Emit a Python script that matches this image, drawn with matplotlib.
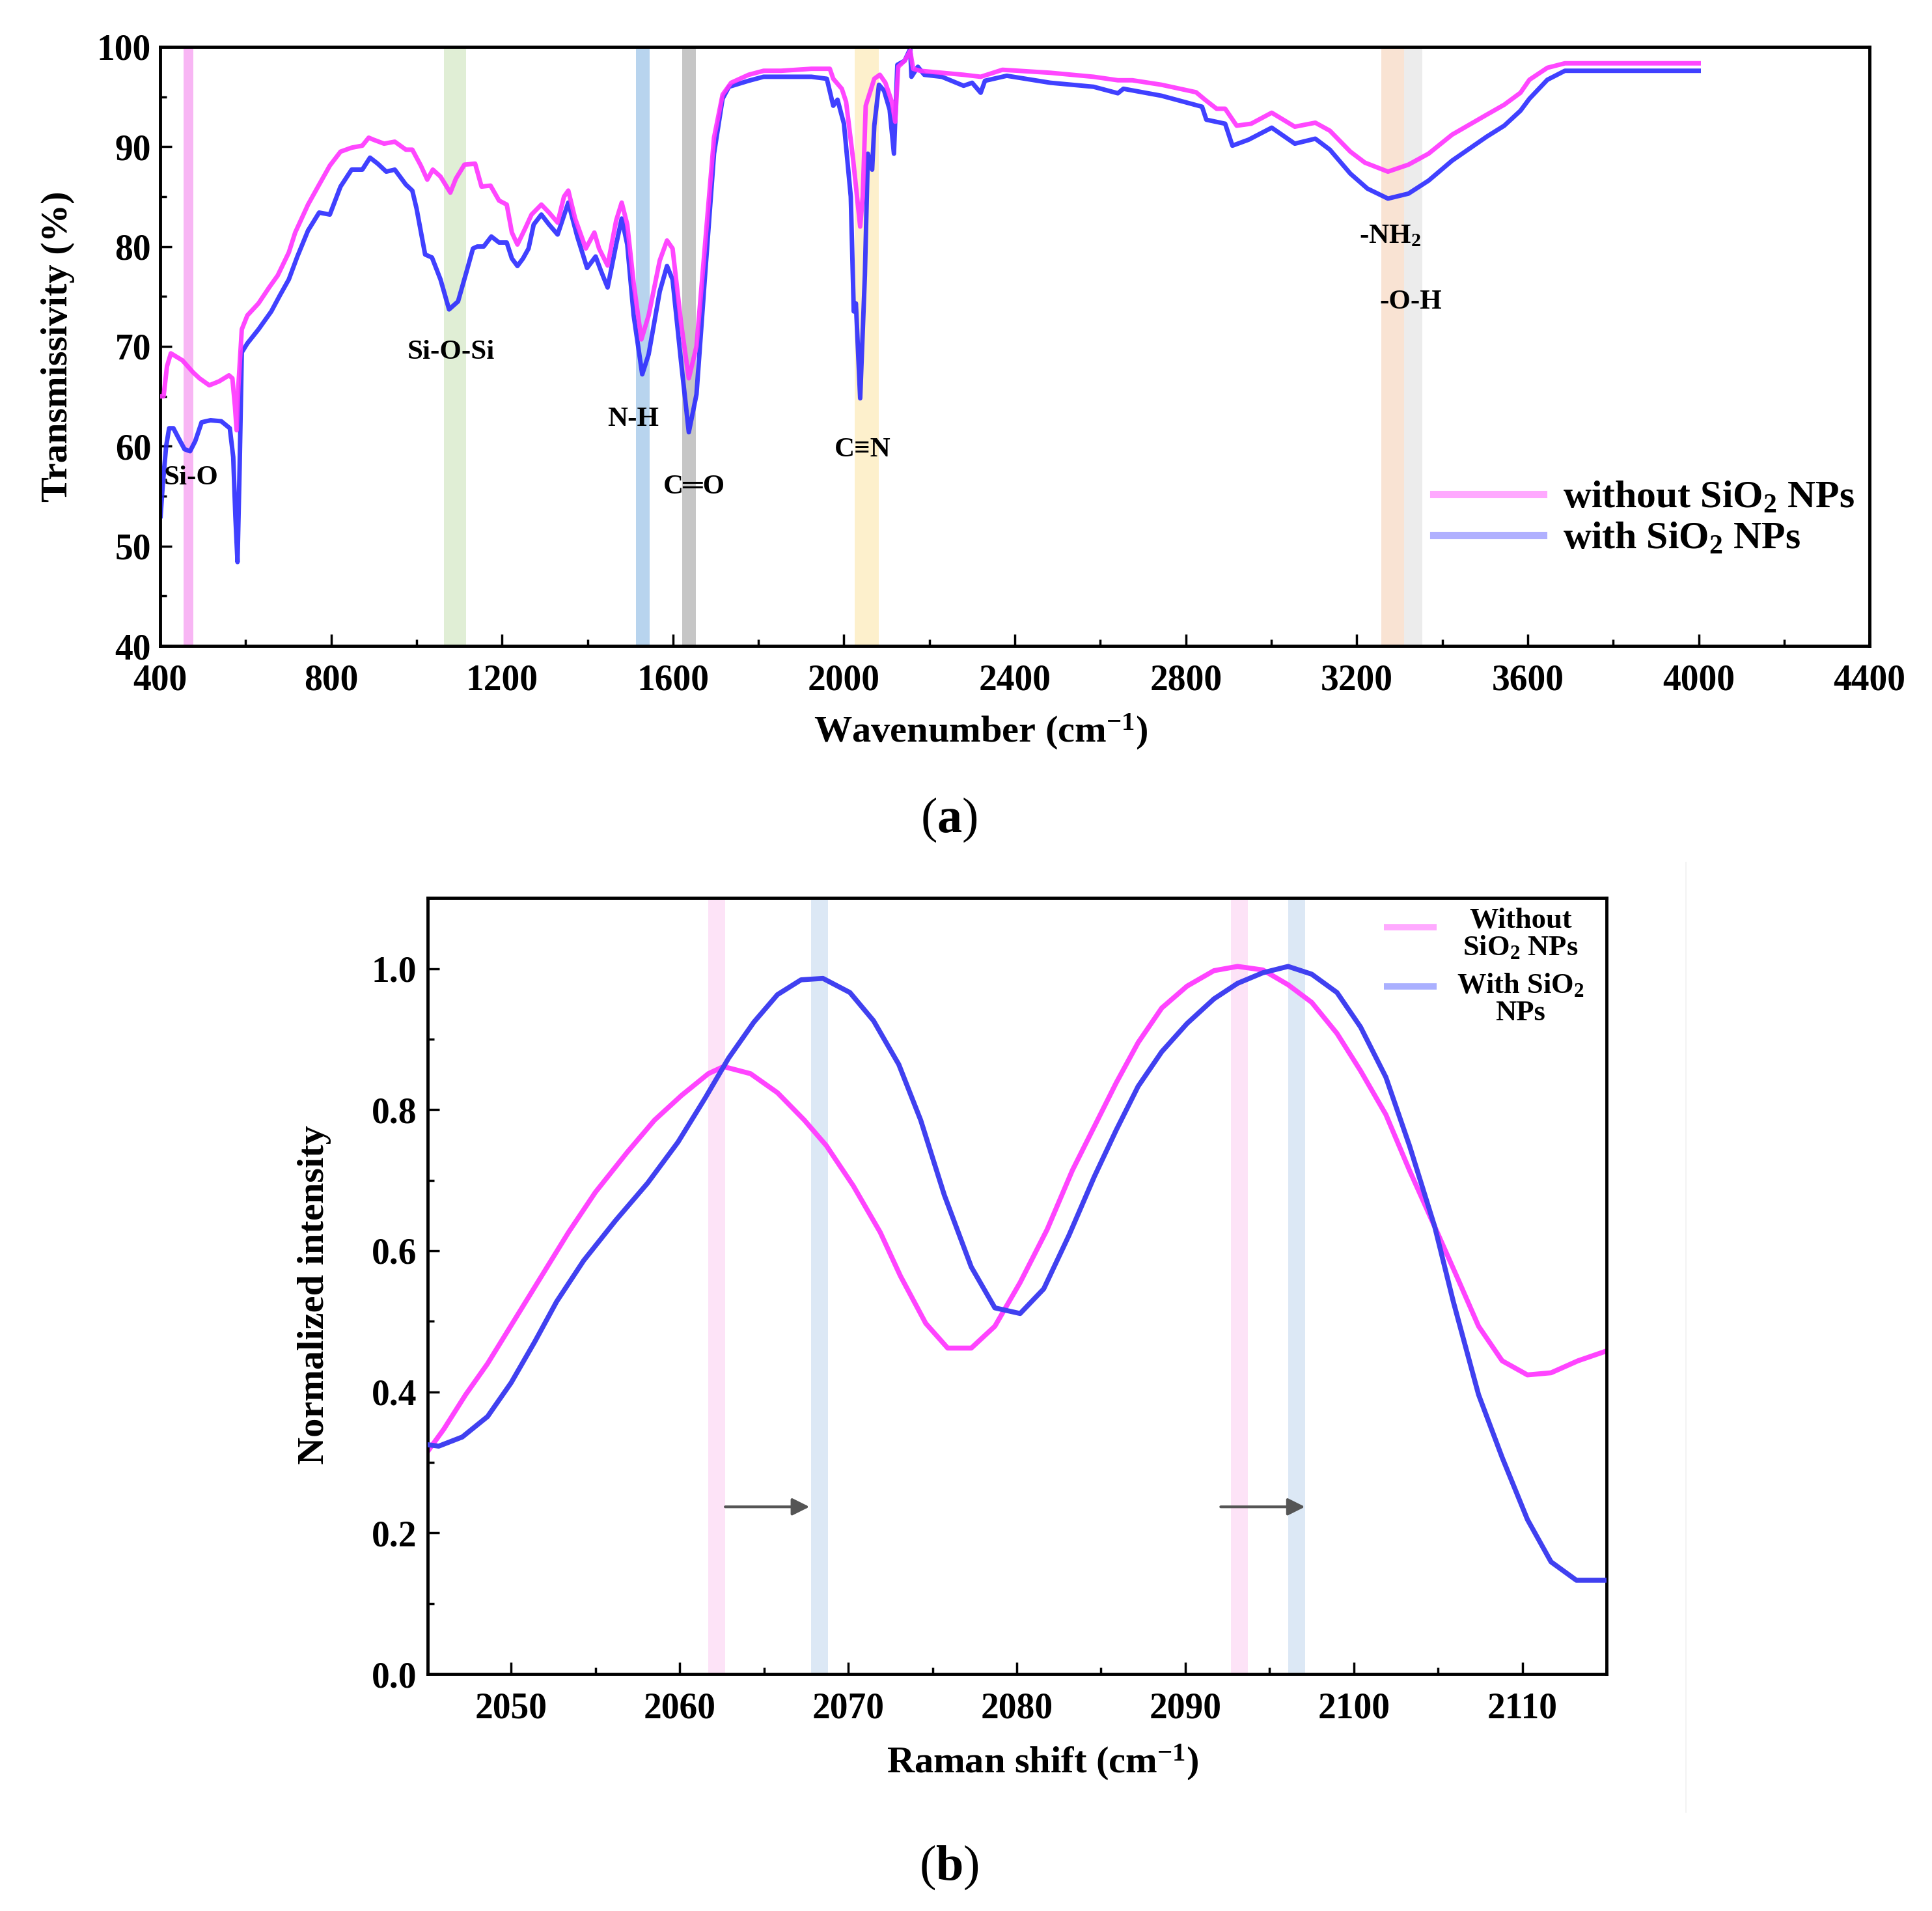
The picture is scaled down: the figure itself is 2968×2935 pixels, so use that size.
import matplotlib
matplotlib.use('Agg')
import matplotlib.pyplot as plt
from matplotlib.lines import Line2D
from matplotlib.ticker import MultipleLocator, FormatStrFormatter

plt.rcParams['font.family'] = ['Liberation Serif', 'DejaVu Serif', 'DejaVu Sans']
plt.rcParams['font.weight'] = 'bold'
plt.rcParams['axes.labelweight'] = 'bold'
plt.rcParams['mathtext.fontset'] = 'custom'
plt.rcParams['mathtext.rm'] = 'Liberation Serif:bold'
plt.rcParams['mathtext.it'] = 'Liberation Serif:italic:bold'
plt.rcParams['mathtext.bf'] = 'Liberation Serif:bold'

# ---------------- Panel (a): FTIR data ----------------
wn_without = [401, 408, 416, 425, 452, 477, 492, 515, 538, 561, 569, 575, 579, 583, 591,
              604, 630, 655, 675, 701, 716, 746, 772, 797, 822, 848, 873, 888, 899, 924,
              949, 975, 990, 1010, 1025, 1038, 1056, 1079, 1092, 1112, 1137, 1152,
              1173, 1193, 1211, 1223, 1236, 1254, 1269, 1292, 1310, 1330, 1345, 1355, 1371,
              1396, 1416, 1427, 1447, 1467, 1480, 1493, 1508, 1526, 1543, 1569, 1586, 1599,
              1619, 1637, 1655, 1675, 1696, 1716, 1736, 1777, 1812, 1853,
              1924, 1967, 1975, 1995, 2005, 2021, 2038, 2044, 2051, 2071, 2084, 2097, 2112,
              2120, 2127, 2142, 2155, 2162, 2178,
              2280, 2320, 2371, 2483, 2584, 2641, 2675, 2743, 2824, 2845, 2872, 2892, 2919,
              2953, 3001, 3055, 3103, 3137, 3185, 3219, 3273, 3321, 3368, 3423, 3504, 3545,
              3583, 3604, 3646, 3687, 3750, 4000]
T_without = [65.0, 65.0, 68.0, 69.3, 68.6, 67.4, 66.8, 66.1, 66.5, 67.1, 66.8, 64.0, 61.6, 66.0, 71.7,
             73.1, 74.3, 75.9, 77.1, 79.4, 81.4, 84.2, 86.2, 88.1, 89.5, 89.9, 90.1, 90.9, 90.7, 90.3,
             90.5, 89.7, 89.7, 88.1, 86.7, 87.7, 87.0, 85.4, 86.8, 88.2, 88.3, 86.0,
             86.1, 84.6, 84.2, 81.4, 80.2, 81.8, 83.2, 84.2, 83.4, 82.4, 85.0, 85.6, 82.8,
             79.8, 81.4, 79.8, 78.1, 82.6, 84.4, 82.2, 76.3, 70.7, 73.1, 78.6, 80.6, 79.8,
             72.3, 66.8, 70.0, 80.2, 90.9, 95.2, 96.4, 97.2, 97.6, 97.6,
             97.8, 97.8, 96.8, 95.8, 94.5, 88.9, 82.0, 85.0, 94.1, 96.8, 97.2, 96.4, 94.5,
             92.5, 98.0, 98.6, 99.6, 97.8, 97.6,
             97.2, 97.0, 97.7, 97.4, 97.0, 96.65, 96.65, 96.2, 95.45, 94.7, 93.8, 93.8, 92.1,
             92.3, 93.4, 92.0, 92.4, 91.6, 89.5, 88.4, 87.5, 88.2, 89.3, 91.2, 93.2, 94.2,
             95.4, 96.7, 97.9, 98.35, 98.35, 98.35]

wn_with = [401, 406, 414, 421, 431, 442, 457, 470, 482, 497, 518, 543, 563, 571, 576, 581, 586, 591,
           604, 630, 660, 680, 701, 721, 746, 772, 797, 822, 848, 873, 891, 909, 929, 949,
           975, 990, 1000, 1020, 1036, 1056, 1076, 1097, 1117, 1132, 1142, 1157,
           1175, 1193, 1211, 1223, 1236, 1249, 1262, 1274, 1292, 1310, 1330, 1355, 1376,
           1399, 1419, 1432, 1447, 1467, 1480, 1493, 1508, 1528, 1543, 1569, 1586, 1599,
           1619, 1637, 1655, 1675, 1696, 1716, 1731, 1777, 1812, 1853,
           1924, 1960, 1975, 1985, 2000, 2016, 2023, 2028, 2038, 2049, 2056, 2066, 2071,
           2082, 2094, 2107, 2117, 2125, 2142, 2155, 2158, 2173, 2188,
           2229, 2280, 2300, 2320, 2330, 2381, 2483, 2584, 2641, 2654, 2743, 2838, 2848,
           2892, 2909, 2947, 3001, 3055, 3103, 3137, 3185, 3225, 3273, 3321, 3368, 3423,
           3504, 3545, 3583, 3604, 3646, 3687, 3750, 4000]
T_with = [53.0, 56.1, 60.0, 61.8, 61.8, 60.9, 59.7, 59.5, 60.5, 62.4, 62.6, 62.5, 61.8, 58.9, 53.0, 48.4, 58.0, 69.4,
          70.3, 71.7, 73.5, 75.1, 76.7, 79.0, 81.6, 83.4, 83.2, 86.0, 87.7, 87.7, 88.9, 88.3, 87.5, 87.7,
          86.2, 85.6, 83.8, 79.2, 78.9, 76.7, 73.7, 74.5, 77.5, 79.8, 80.0, 80.0,
          81.0, 80.4, 80.4, 78.8, 78.05, 78.8, 79.8, 82.2, 83.2, 82.2, 81.2, 84.4, 81.0,
          77.85, 79.0, 77.5, 75.9, 80.2, 82.8, 80.2, 73.1, 67.2, 69.2, 75.5, 78.05, 76.7,
          68.4, 61.4, 65.2, 77.1, 89.3, 94.8, 96.0, 96.6, 97.0, 97.0,
          97.0, 96.8, 94.1, 94.7, 92.3, 85.0, 73.5, 74.3, 64.8, 77.1, 89.3, 87.7, 92.1,
          96.2, 95.6, 93.7, 89.3, 98.2, 98.6, 99.8, 97.0, 98.0, 97.2,
          97.0, 96.1, 96.4, 95.4, 96.6, 97.1, 96.4, 96.0, 95.35, 95.8, 95.1, 94.0, 92.7,
          92.3, 90.1, 90.7, 91.9, 90.3, 90.8, 89.7, 87.3, 85.8, 84.8, 85.3, 86.6, 88.6,
          91.0, 92.1, 93.6, 94.8, 96.7, 97.6, 97.6, 97.6]

band_names = ['Si-O', 'Si-O-Si', 'N-H', 'C\u2550O', 'C\u2261N', '-NH$_2$', '-O-H']
band_lo = [455, 1064, 1514, 1621, 2025, 3258, 3310]
band_hi = [478, 1116, 1545, 1653, 2082, 3310, 3354]
band_colors = ['#f8b6f4', '#e0eed5', '#b8d4ee', '#c6c6c6', '#fdf0cc', '#f9e3d3', '#ececec']
label_wn = [472, 1081, 1507, 1649, 2044, 3278, 3327]
label_T = [56.8, 69.4, 62.7, 55.9, 59.6, 81.0, 74.4]

# ---------------- Panel (b): Raman data ----------------
rs_without = [2045.06, 2046.0, 2047.3, 2048.6, 2050.2, 2051.8, 2053.4, 2055.0, 2056.9, 2058.5,
              2060.1, 2061.7, 2062.6, 2064.2, 2065.8, 2067.4, 2068.7, 2070.3, 2071.9, 2073.1,
              2074.6, 2075.9, 2077.3, 2078.7, 2080.2, 2081.8, 2083.3, 2084.6, 2085.9, 2087.2,
              2088.6, 2090.1, 2091.7, 2093.1, 2094.6, 2096.1, 2097.5, 2099.0, 2100.4, 2101.9,
              2103.3, 2104.8, 2106.1, 2107.4, 2108.8, 2110.3, 2111.7, 2113.3, 2115.0]
I_without = [0.316, 0.347, 0.396, 0.440, 0.502, 0.564, 0.626, 0.683, 0.740, 0.785,
             0.820, 0.851, 0.861, 0.851, 0.824, 0.785, 0.749, 0.692, 0.626, 0.564,
             0.497, 0.462, 0.462, 0.493, 0.555, 0.630, 0.714, 0.776, 0.838, 0.895,
             0.944, 0.975, 0.997, 1.003, 0.998, 0.977, 0.952, 0.908, 0.855, 0.793,
             0.714, 0.634, 0.564, 0.493, 0.444, 0.424, 0.427, 0.444, 0.458]

rs_with = [2045.06, 2045.7, 2047.1, 2048.6, 2050.0, 2051.4, 2052.7, 2054.3, 2056.2, 2058.1,
           2059.9, 2061.5, 2062.9, 2064.4, 2065.8, 2067.2, 2068.5, 2070.1, 2071.5, 2073.0,
           2074.3, 2075.7, 2077.3, 2078.7, 2080.2, 2081.6, 2083.1, 2084.6, 2085.9, 2087.2,
           2088.6, 2090.1, 2091.7, 2093.1, 2094.6, 2096.1, 2097.5, 2099.0, 2100.4, 2101.9,
           2103.3, 2104.8, 2105.9, 2107.4, 2108.8, 2110.3, 2111.7, 2113.2, 2115.0]
I_with = [0.325, 0.323, 0.336, 0.365, 0.413, 0.471, 0.528, 0.586, 0.643, 0.696,
          0.754, 0.816, 0.873, 0.924, 0.963, 0.984, 0.986, 0.966, 0.926, 0.864,
          0.785, 0.679, 0.577, 0.519, 0.511, 0.546, 0.622, 0.705, 0.771, 0.833,
          0.882, 0.922, 0.957, 0.979, 0.994, 1.003, 0.992, 0.966, 0.917, 0.846,
          0.749, 0.634, 0.528, 0.396, 0.307, 0.219, 0.159, 0.133, 0.133]

peak_without = [2062.2, 2093.2]
peak_with = [2068.3, 2096.6]
peak_halfwidth = 0.5
arrow_start = [2062.7, 2092.1]
arrow_end = [2067.7, 2097.1]
arrow_level = 0.237

# ---------------- Figure ----------------
fig = plt.figure(figsize=(29.68, 29.35), dpi=100)
axa = fig.add_axes([0.0829, 0.6620, 0.8848, 0.3135])
axb = fig.add_axes([0.2214, 0.1240, 0.6102, 0.4061])

PINK = '#ff33ff'
BLUE = '#2b2bff'

for lo, hi, c in zip(band_lo, band_hi, band_colors):
    axa.axvspan(lo, hi, color=c, lw=0, zorder=0)
axa.plot(wn_with, T_with, color=BLUE, lw=5, alpha=0.9, zorder=2, solid_joinstyle='round')
axa.plot(wn_without, T_without, color=PINK, lw=5, alpha=0.9, zorder=3, solid_joinstyle='round')
for name, x, y in zip(band_names, label_wn, label_T):
    axa.text(x, y, name, ha='center', va='center', fontsize=31, zorder=5)

axa.set_xlim(400, 4400)
axa.set_ylim(40, 100)
axa.xaxis.set_major_locator(MultipleLocator(400))
axa.xaxis.set_minor_locator(MultipleLocator(200))
axa.yaxis.set_major_locator(MultipleLocator(10))
axa.yaxis.set_minor_locator(MultipleLocator(5))
axa.set_xlabel('Wavenumber (cm$^{-1}$)', fontsize=42, fontweight='bold', va='center')
axa.set_ylabel('Transmissivity (%)', fontsize=42, fontweight='bold', va='center')
axa.xaxis.set_label_coords(0.480, -0.143)
axa.yaxis.set_label_coords(-0.0598, 0.5)
axa.tick_params(axis='x', pad=20)
axa.tick_params(axis='y', pad=10)

leg = axa.legend(handles=[Line2D([], [], color='#ffa8ff', lw=8), Line2D([], [], color='#b0b0ff', lw=8)],
                 labels=['without SiO$_2$ NPs', 'with SiO$_2$ NPs'],
                 loc='center left', bbox_to_anchor=(0.745, 0.212), frameon=False,
                 borderpad=0, borderaxespad=0, handlelength=2.83, handletextpad=0.49,
                 labelspacing=0.15, fontsize=43)

# Panel (b)
for p in peak_without:
    axb.axvspan(p - peak_halfwidth, p + peak_halfwidth, color='#fde3f7', lw=0, zorder=0)
for p in peak_with:
    axb.axvspan(p - peak_halfwidth, p + peak_halfwidth, color='#dce8f5', lw=0, zorder=0)
axb.plot(rs_without, I_without, color='#ff44ff', lw=5.5, zorder=2)
axb.plot(rs_with, I_with, color='#4040f0', lw=5.5, zorder=3)
for x0, x1 in zip(arrow_start, arrow_end):
    axb.annotate('', xy=(x1, arrow_level), xytext=(x0, arrow_level),
                 arrowprops=dict(arrowstyle='-|>', color='#555555', lw=3, mutation_scale=40,
                                 shrinkA=0, shrinkB=0), zorder=4)

axb.set_xlim(2045.05, 2115)
axb.set_ylim(0, 1.1)
axb.xaxis.set_major_locator(MultipleLocator(10))
axb.xaxis.set_minor_locator(MultipleLocator(5))
axb.yaxis.set_major_locator(MultipleLocator(0.2))
axb.yaxis.set_minor_locator(MultipleLocator(0.1))
axb.yaxis.set_major_formatter(FormatStrFormatter('%.1f'))
axb.set_xlabel('Raman shift (cm$^{-1}$)', fontsize=42, fontweight='bold', va='center')
axb.set_ylabel('Normalized intensity', fontsize=42, fontweight='bold', va='center')
axb.xaxis.set_label_coords(0.5215, -0.114)
axb.yaxis.set_label_coords(-0.0961, 0.489)
axb.tick_params(axis='x', pad=20)
axb.tick_params(axis='y', pad=12)

# manual legend for (b)
axb.add_line(Line2D([0.811, 0.856], [0.9627, 0.9627], transform=axb.transAxes,
                    color='#ffaaff', lw=7, solid_capstyle='butt'))
axb.add_line(Line2D([0.811, 0.856], [0.8864, 0.8864], transform=axb.transAxes,
                    color='#aab0ff', lw=7, solid_capstyle='butt'))
axb.text(0.927, 0.953, 'Without\nSiO$_2$ NPs', transform=axb.transAxes, ha='center', va='center',
         fontsize=32, linespacing=1.05, multialignment='center')
axb.text(0.927, 0.8695, 'With SiO$_2$\nNPs', transform=axb.transAxes, ha='center', va='center',
         fontsize=32, linespacing=1.05, multialignment='center')

for ax in (axa, axb):
    ax.tick_params(which='both', direction='in', top=False, right=False, width=2.5, labelsize=40)
    ax.tick_params(which='major', length=13)
    ax.tick_params(which='minor', length=7)
    for s in ax.spines.values():
        s.set_linewidth(3.5)

fig.text(1458 / 2968, 1 - 1259 / 2935, '($\\mathbf{a}$)', ha='center', va='center', fontsize=55,
         fontweight='normal')
fig.text(1458 / 2968, 1 - 2868 / 2935, '($\\mathbf{b}$)', ha='center', va='center', fontsize=55,
         fontweight='normal')
fig.add_artist(Line2D([2590 / 2968, 2590 / 2968], [1 - 1325 / 2935, 1 - 2783 / 2935],
                      color='#f3f3f3', lw=1.5))

fig.savefig('out.png', dpi=100)
